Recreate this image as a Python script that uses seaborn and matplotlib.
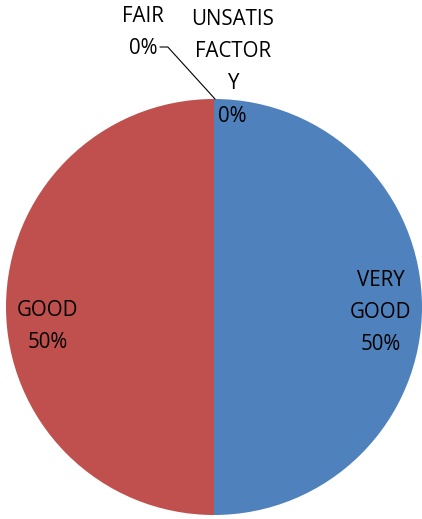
import matplotlib
matplotlib.use("Agg")
import matplotlib.pyplot as plt
import seaborn as sns

# Data
categories = ["VERY GOOD", "GOOD", "FAIR", "UNSATISFACTORY"]
label_text = ["VERY\nGOOD", "GOOD", "FAIR", "UNSATIS\nFACTOR\nY"]
values = [50, 50, 0, 0]
colors = ["#4F81BD", "#C0504D", "#9BBB59", "#8064A2"]

sns.set_theme(style="white")
plt.rcParams['font.family'] = ['Open Sans', 'DejaVu Sans']

fig = plt.figure(figsize=(4.22, 5.19), dpi=100)
ax = fig.add_axes([6 / 422, 4 / 519, 416 / 422, 416 / 519])

ax.pie(values, colors=colors, startangle=90, counterclock=False,
       radius=1.0, wedgeprops=dict(linewidth=0))
ax.set_xlim(-1, 1)
ax.set_ylim(-1, 1)
ax.set_aspect("equal")
ax.axis("off")

total = sum(values)
pct = [f"{round(v * 100 / total)}%" for v in values]

# label positions (data coords of the pie axes)
label_pos = [(0.80, -0.025), (-0.80, -0.095), (-0.34, 1.32), (0.09, 1.15)]
for txt, p, (x, y) in zip(label_text, pct, label_pos):
    ax.text(x, y, f"{txt}\n{p}", ha="center", va="center", fontsize=14.8,
            color="black", linespacing=1.7, clip_on=False)

# leader line for FAIR
ax.plot([-0.26, -0.222, 0.005], [1.25, 1.25, 1.0], color="black",
        linewidth=0.8, clip_on=False)

fig.savefig("out.png", dpi=100)
